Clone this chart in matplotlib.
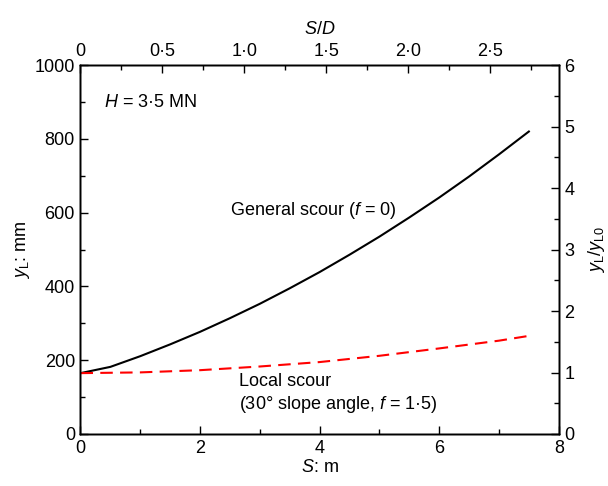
import numpy as np
import matplotlib.pyplot as plt
from matplotlib.ticker import MultipleLocator, FuncFormatter

plt.rcParams['font.family'] = ['Liberation Sans', 'DejaVu Sans']
plt.rcParams['mathtext.fontset'] = 'custom'
plt.rcParams['mathtext.rm'] = 'Liberation Sans'
plt.rcParams['mathtext.it'] = 'Liberation Sans:italic'

# data
s_general = [0, 0.5, 1, 1.5, 2, 2.5, 3, 3.5, 4, 4.5, 5, 5.5, 6, 6.5, 7, 7.5]
y_general = [165, 182, 211, 243, 277, 314, 353, 395, 439, 486, 535, 587, 641, 698, 758, 820]
s_local = [0, 1, 2, 3, 4, 5, 6, 7, 7.5]
y_local = [165, 167, 173, 183, 195, 212, 232, 253, 266]

sd_max = 2.92  # S/D at S = 8 m

fs = 13
fig = plt.figure(figsize=(6.08, 4.86), dpi=100)
ax = fig.add_axes([0.1324, 0.107, 0.7866, 0.759])

ax.plot(s_general, y_general, color='black', lw=1.5)
ax.plot(s_local, y_local, color='red', lw=1.5, ls=(0, (6, 3.5)))

ax.set_xlim(0, 8)
ax.set_ylim(0, 1000)
ax.xaxis.set_major_locator(MultipleLocator(2))
ax.xaxis.set_minor_locator(MultipleLocator(1))
ax.yaxis.set_major_locator(MultipleLocator(200))
ax.yaxis.set_minor_locator(MultipleLocator(100))
ax.set_xlabel('$S$: m', fontsize=fs, labelpad=2)
ax.set_ylabel('$y_\\mathrm{L}$: mm', fontsize=fs, labelpad=2)

ax2 = ax.twinx()
ax2.set_ylim(0, 6)
ax2.yaxis.set_major_locator(MultipleLocator(1))
ax2.yaxis.set_minor_locator(MultipleLocator(0.5))
ax2.set_ylabel('$y_\\mathrm{L}/y_\\mathrm{L0}$', fontsize=fs, labelpad=8)

ax3 = ax.twiny()
ax3.set_xlim(0, sd_max)
ax3.xaxis.set_major_locator(MultipleLocator(0.5))
ax3.xaxis.set_minor_locator(MultipleLocator(0.25))
ax3.xaxis.set_major_formatter(
    FuncFormatter(lambda v, p: '0' if v == 0 else ('%.1f' % v).replace('.', '·')))
ax3.set_xlabel('$S/D$', fontsize=fs, labelpad=6)

for a in (ax, ax2, ax3):
    a.tick_params(which='both', direction='in', labelsize=fs, width=1, pad=4)
    a.tick_params(which='major', length=6)
    a.tick_params(which='minor', length=3.5)
    for sp in a.spines.values():
        sp.set_linewidth(1)

ax.text(0.4, 900, '$H$ = 3·5 MN', fontsize=fs, va='center')
ax.text(3.9, 605, 'General scour ($f$ = 0)', fontsize=fs, ha='center', va='center')
ax.text(2.65, 143, 'Local scour', fontsize=fs, va='center')
ax.text(2.65, 79, '(30° slope angle, $f$ = 1·5)', fontsize=fs, va='center')

fig.savefig('out.png', dpi=100)
